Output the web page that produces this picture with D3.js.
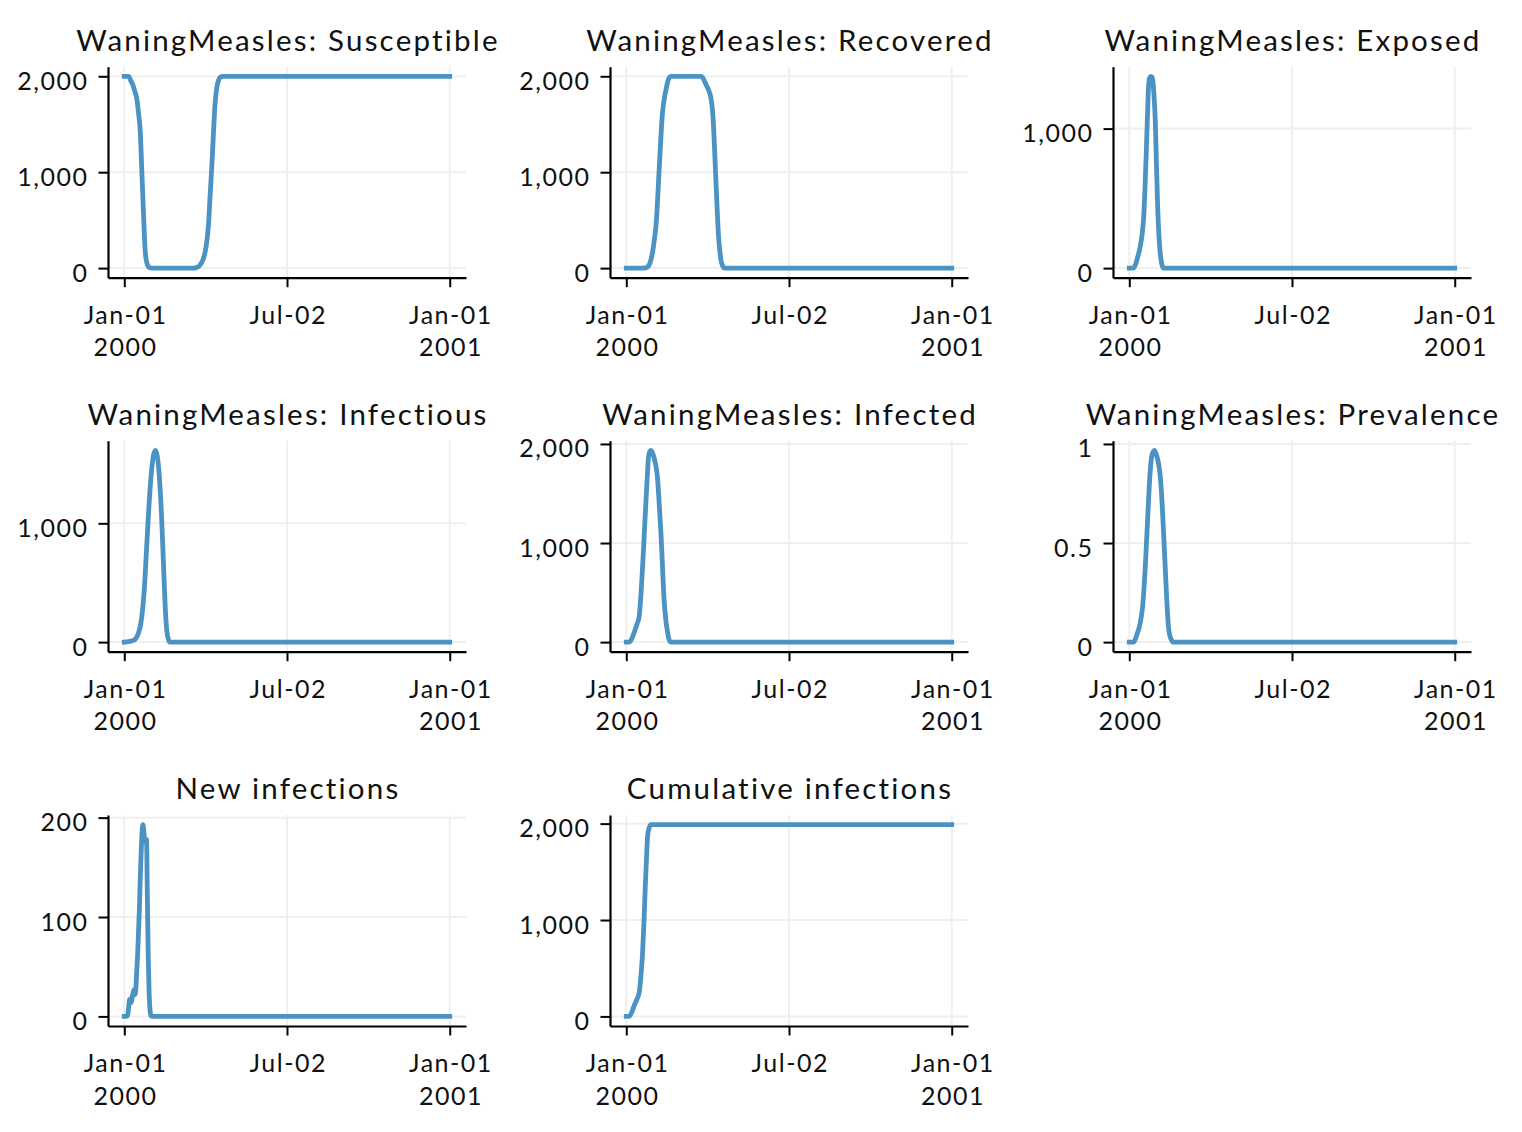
<!DOCTYPE html>
<html>
<head>
<meta charset="utf-8">
<script src="https://cdn.jsdelivr.net/npm/d3@7"></script>
<style>
  html, body { margin: 0; padding: 0; background: #fff; }
  svg { display: block; }
  text { font-family: Lato, "Open Sans", sans-serif; fill: #111; }
</style>
</head>
<body>
<script>
// ---------- DATA (day offset from 2000-01-01, value) ----------
const startDate = Date.UTC(2000, 0, 1);
const endDate = Date.UTC(2001, 0, 1);

const titles = [
  "WaningMeasles: Susceptible", "WaningMeasles: Recovered", "WaningMeasles: Exposed",
  "WaningMeasles: Infectious", "WaningMeasles: Infected", "WaningMeasles: Prevalence",
  "New infections", "Cumulative infections"
];

const susceptible = [[0,2000],[5,2000],[7,1960],[10,1900],[12,1840],[14,1770],[16,1620],[18,1420],[19.8,1000],[21.7,550],[23.6,170],[25.5,50],[27.3,14],[29,3],[31,0],[78,0],[81,5],[84,20],[86.5,50],[89,100],[91,170],[93,290],[94.7,450],[96.5,750],[98.5,1070],[100,1350],[102,1700],[104,1880],[106,1958],[108,1990],[111,2000],[366,2000]];

const recovered = [[0,0],[20,0],[23.7,10],[26.5,50],[29.3,152],[31.5,290],[33.9,497],[35.5,760],[36.9,1015],[38.8,1340],[40.6,1606],[43,1780],[45.1,1880],[46.8,1950],[48.2,1985],[50,2000],[84,2000],[86,1985],[89.6,1914],[92.5,1860],[95.2,1775],[96.6,1680],[97.8,1534],[99.3,1240],[100.8,912],[102.3,600],[103.8,325],[105.2,180],[106.5,83],[108.3,25],[110.2,0],[366,0]];

const exposed = [[0,0],[4.5,0],[7,25],[9.5,80],[12.3,153],[14.2,230],[16,345],[17.6,560],[19.1,825],[20.4,1080],[21.7,1304],[23,1365],[24.3,1375],[25.5,1370],[26.6,1340],[27.9,1230],[29.2,1065],[30.5,760],[31.8,465],[33.3,240],[34.8,106],[36.5,30],[38.5,0],[366,0]];

const infectious = [[0,0],[8,10],[12.3,25],[15.7,70],[19.5,200],[22.5,441],[25,776],[27.7,1139],[30.7,1446],[33,1580],[35.2,1615],[37,1570],[38.9,1446],[41.8,1083],[44.5,581],[46.4,246],[48.7,50],[51.3,0],[366,0]];

const infected = [[0,0],[3.4,0],[6,30],[9,100],[12,180],[14.6,264],[16.5,480],[18.4,766],[20.3,1100],[22.2,1434],[23.8,1700],[25,1869],[26.5,1925],[27.8,1936],[29.5,1910],[31.5,1852],[33.3,1780],[35,1668],[37,1400],[39,1100],[40.7,770],[42.5,431],[44.5,220],[46.5,97],[48,30],[50,0],[366,0]];

const prevalence = [[0,0],[4.9,0],[8,0.03],[12.3,0.097],[15,0.18],[18,0.38],[20,0.56],[21.7,0.718],[23.5,0.86],[25.5,0.944],[28.2,0.968],[30.5,0.945],[33,0.9],[35,0.83],[36.7,0.718],[38.5,0.56],[40.4,0.38],[42.2,0.21],[44,0.08],[46.5,0.02],[49.7,0],[366,0]];

const newInfections = [[0,0],[1,0],[2,0],[3,0],[4,2],[5,10],[6,17],[7,15],[8,14],[9,20],[10,24],[11,27],[12,22],[13,28],[14,45],[15,62],[16,85],[17,108],[18,140],[19,165],[20,185],[21,193],[22,186],[23,176],[24,177],[25,178],[26,118],[27,58],[28,22],[29,6],[30,1],[31,0],[366,0]];

const cumulative = [[0,0],[3.4,0],[6,40],[9,114],[12,180],[14.6,252],[16.5,420],[18.4,666],[20,1000],[21.4,1355],[22.8,1650],[24,1872],[25.5,1950],[27.8,1990],[366,1990]];

const seriesList = [susceptible, recovered, exposed, infectious, infected, prevalence, newInfections, cumulative];

const yTickValues = [
  [0, 1000, 2000], [0, 1000, 2000], [0, 1000],
  [0, 1000], [0, 1000, 2000], [0, 0.5, 1],
  [0, 100, 200], [0, 1000, 2000]
];

const xTickDates = [Date.UTC(2000,0,1), Date.UTC(2000,6,2), Date.UTC(2001,0,1)];
const xTickLabels = [["Jan-01","2000"], ["Jul-02"], ["Jan-01","2001"]];

// ---------- LAYOUT ----------
const W = 1522, H = 1132;
const colLeft = [108, 610, 1113];
const rowTop = [66.7, 440.7, 815];
const axW = 358, axH = 211;
const lineColor = "#4c93c4";
const gridColor = "#efefef";
const tickFont = "25px";
const tickSpacing = "1.5px";

const svg = d3.select("body").append("svg").attr("width", W).attr("height", H);

const DAY = 86400000;
const span = endDate - startDate;

seriesList.forEach((series, i) => {
  const col = i % 3, row = Math.floor(i / 3);
  const g = svg.append("g").attr("transform", `translate(${colLeft[col]},${rowTop[row]})`);

  const x = d3.scaleUtc()
    .domain([new Date(startDate - 0.05 * span), new Date(endDate + 0.05 * span)])
    .range([0, axW]);

  const ext = d3.extent(series, d => d[1]);
  const pad = (ext[1] - ext[0]) * 0.05;
  const y = d3.scaleLinear().domain([ext[0] - pad, ext[1] + pad]).range([axH, 0]);

  // grid
  const grid = g.append("g");
  grid.selectAll("line.gx").data(xTickDates).join("line")
    .attr("x1", d => x(new Date(d))).attr("x2", d => x(new Date(d)))
    .attr("y1", 0).attr("y2", axH)
    .attr("stroke", gridColor).attr("stroke-width", 2);
  grid.selectAll("line.gy").data(yTickValues[i]).join("line")
    .attr("x1", 0).attr("x2", axW)
    .attr("y1", d => y(d)).attr("y2", d => y(d))
    .attr("stroke", gridColor).attr("stroke-width", 2);

  // line
  const line = d3.line()
    .x(d => x(new Date(startDate + d[0] * DAY)))
    .y(d => y(d[1]))
    .curve(d3.curveMonotoneX);
  g.append("path").datum(series)
    .attr("d", line)
    .attr("fill", "none")
    .attr("stroke", lineColor)
    .attr("stroke-width", 4.8)
    .attr("stroke-linejoin", "round")
    .attr("stroke-linecap", "square");

  // y axis
  const yAxis = d3.axisLeft(y)
    .tickValues(yTickValues[i])
    .tickFormat(d => (yTickValues[i][2] === 1 ? d3.format("")(d) : d3.format(",")(d)))
    .tickSize(9.5).tickSizeOuter(0).tickPadding(10);
  const ya = g.append("g").call(yAxis);
  ya.select(".domain").attr("stroke", "#000").attr("stroke-width", 2.2);
  ya.selectAll(".tick line").attr("stroke", "#000").attr("stroke-width", 2);
  ya.selectAll(".tick text").attr("dy", null).attr("y", 13)
    .style("font-size", tickFont).style("letter-spacing", tickSpacing)
    .style("font-family", "Lato, sans-serif").attr("fill", "#111");

  // x axis
  const xAxis = d3.axisBottom(x)
    .tickValues(xTickDates.map(d => new Date(d)))
    .tickFormat("")
    .tickSize(9.5).tickSizeOuter(0);
  const xa = g.append("g").attr("transform", `translate(0,${axH})`).call(xAxis);
  xa.select(".domain").attr("stroke", "#000").attr("stroke-width", 2.2);
  xa.selectAll(".tick line").attr("stroke", "#000").attr("stroke-width", 2);
  xa.selectAll(".tick text").each(function(d, k) {
    const t = d3.select(this).attr("dy", null).attr("y", null).text(null)
      .style("font-size", tickFont).style("letter-spacing", tickSpacing)
      .style("font-family", "Lato, sans-serif").attr("fill", "#111");
    xTickLabels[k].forEach((s, j) => {
      t.append("tspan").attr("x", 0.75).attr("y", 46 + j * 32.7).text(s);
    });
  });

  // title
  g.append("text")
    .attr("x", axW / 2 + 1).attr("y", -16)
    .attr("text-anchor", "middle")
    .style("font-size", "29.5px")
    .style("letter-spacing", "2.2px")
    .text(titles[i]);
});
</script>
</body>
</html>
